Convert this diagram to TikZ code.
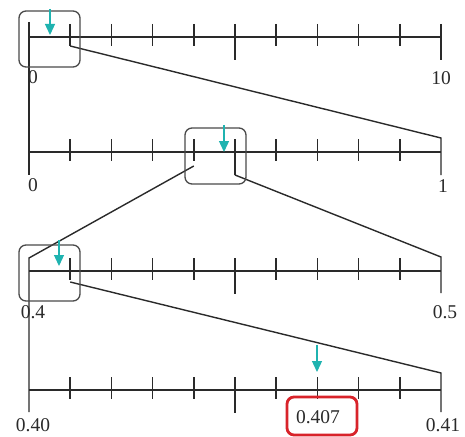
\documentclass[tikz,border=0pt]{standalone}
\usepackage{fontspec}
\setmainfont{Liberation Serif}
\usetikzlibrary{arrows.meta}
\definecolor{mk}{HTML}{1FB3B0}
\definecolor{hlred}{HTML}{D8232A}
\definecolor{ink}{HTML}{2A2A2A}
\begin{document}
\begin{tikzpicture}[x=1pt,y=-1pt,
  axis/.style={line width=1.6pt, draw=ink},
  tickmark/.style={line width=1.7pt, draw=ink},
  link/.style={line width=1.4pt, draw=ink, line join=miter},
  zoombox/.style={draw=ink!85, line width=1.3pt, rounded corners=7pt, inner sep=0pt},
  marker/.style={draw=mk, line width=1.3pt, -{Triangle[width=10pt,length=11pt,fill=mk]}},
  lab/.style={font=\fontsize{19.5}{20}\selectfont, inner sep=0pt, text=ink},
  hl/.style={draw=hlred, line width=2.8pt, rounded corners=7pt, minimum width=70pt, minimum height=38pt, inner sep=0pt}]
\useasboundingbox (0,0) rectangle (465,436);
% tick positions
\foreach \n/\y in {A/37,B/152,C/271,D/390}{
  \foreach \i in {0,...,10}{
    \coordinate (\n\i) at ({29+41.2*\i},\y);
  }
}
% axes and ticks
\foreach \n in {A,B,C,D}{
  \draw[axis] (\n0) -- (\n10);
  \foreach \i in {1,2,3,4,6,7,8,9}{
    \draw[tickmark] ([yshift=13pt]\n\i) -- ([yshift=-9pt]\n\i);
  }
  \draw[tickmark] ([yshift=13pt]\n5) -- ([yshift=-23pt]\n5);
}
% connector end points
\coordinate (A0t) at ([yshift=15pt]A0);
\coordinate (B0b) at ([yshift=-23pt]B0);
\coordinate (A1b) at ([yshift=-9pt]A1);
\coordinate (B10t) at ([yshift=14pt]B10);
\coordinate (B10b) at ([yshift=-23pt]B10);
\coordinate (B4b) at ([yshift=-14pt]B4);
\coordinate (B5b) at ([yshift=-23pt]B5);
\coordinate (C0t) at ([yshift=13pt]C0);
\coordinate (C10t) at ([yshift=14pt]C10);
\coordinate (C10b) at ([yshift=-22pt]C10);
\coordinate (C1b) at ([yshift=-11pt]C1);
\coordinate (D0b) at ([yshift=-22pt]D0);
\coordinate (D10t) at ([yshift=17pt]D10);
\coordinate (D10b) at ([yshift=-22pt]D10);
% end ticks and zoom connectors
\draw[tickmark] (A0t) -- (B0b);
\draw[tickmark] ([yshift=13pt]A10) -- ([yshift=-23pt]A10);
\draw[link] (A1b) -- (B10t) -- (B10b);
\draw[link] (B4b) -- (C0t) -- (D0b);
\draw[link] (B5b) -- (C10t) -- (C10b);
\draw[link] (C1b) -- (D10t) -- (D10b);
% zoom boxes
\node[zoombox, minimum width=61pt, minimum height=56pt] (boxA) at (49.5,39) {};
\node[zoombox, minimum width=61pt, minimum height=56pt] (boxB) at (215.5,156) {};
\node[zoombox, minimum width=61pt, minimum height=56pt] (boxC) at (49.5,273) {};
% markers
\coordinate (mA0) at (50,9);   \coordinate (mA1) at (50,35);
\coordinate (mB0) at (224,125); \coordinate (mB1) at (224,152);
\coordinate (mC0) at (59,240);  \coordinate (mC1) at (59,266);
\coordinate (mD0) at (317,345); \coordinate (mD1) at (317,372);
\draw[marker] (mA0) -- (mA1);
\draw[marker] (mB0) -- (mB1);
\draw[marker] (mC0) -- (mC1);
\draw[marker] (mD0) -- (mD1);
% labels
\node[lab] (lA0) at (33,77) {0};
\node[lab] (lA1) at (441,78) {10};
\node[lab] (lB0) at (33,185) {0};
\node[lab] (lB1) at (443,186) {1};
\node[lab] (lC0) at (33,312) {0.4};
\node[lab] (lC1) at (445,312) {0.5};
\node[lab] (lD0) at (33,425) {0.40};
\node[lab] (lD1) at (443,425) {0.41};
\node[lab] (lDm) at (318,417) {0.407};
\node[hl] (hlbox) at (322,416) {};
\end{tikzpicture}
\end{document}
